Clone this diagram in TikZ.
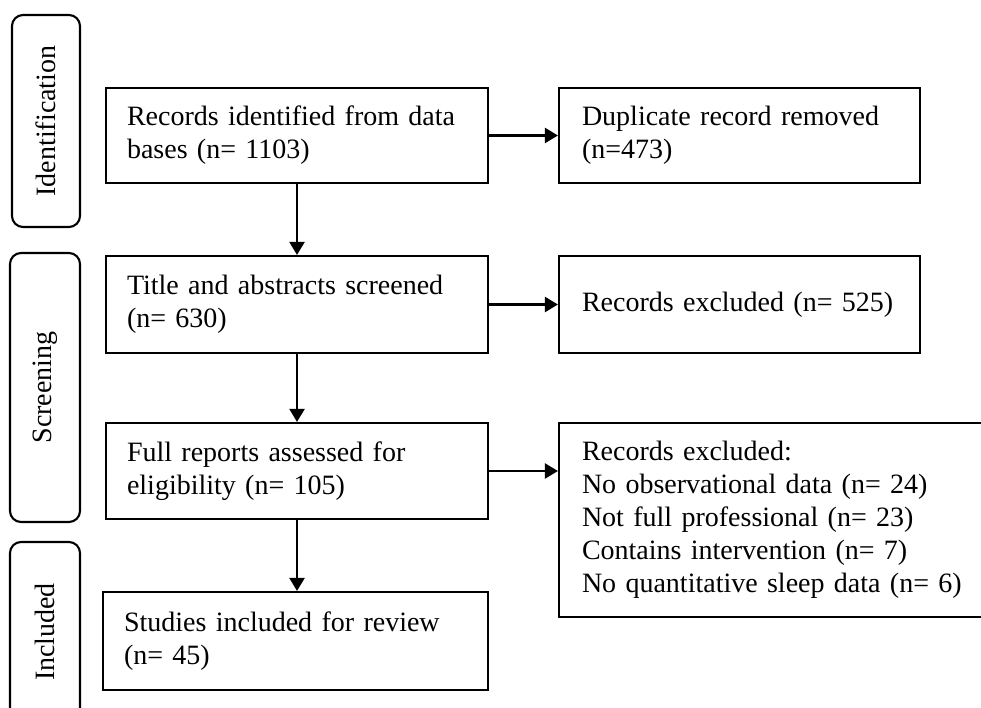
\documentclass[tikz,border=0pt]{standalone}
\usepackage{fontspec}
\setmainfont{Liberation Serif}
\usetikzlibrary{arrows.meta}
\begin{document}
\begin{tikzpicture}[x=1pt,y=-1pt,
  txt/.style={font=\fontsize{28}{33}\selectfont},
  box/.style={txt, draw=black, line width=2.1pt, rectangle, inner ysep=0pt, align=left},
  lbox/.style={box, inner xsep=21pt},
  rbox/.style={box, inner xsep=23pt},
  phase/.style={txt, draw=black, line width=2.1pt, rounded corners=11pt, rotate=90, inner sep=0pt},
  arr/.style={line width=2.1pt, -{Triangle[length=13pt,width=15pt]}}
]
\useasboundingbox (0,0) rectangle (981,708);

% phase labels
\node[phase, minimum width=212pt, minimum height=68pt] (pid) at (46,121) {Identification};
\node[phase, minimum width=269pt, minimum height=70pt] (psc) at (45,387.5) {Screening};
\node[phase, minimum width=180pt, minimum height=70pt] (pin) at (45,632) {Included};

% main column
\node[lbox, minimum width=382pt, minimum height=95pt, text width=340pt] (b1) at (297,135.5)
  {Records identified from data\\bases (n= 1103)};
\node[lbox, minimum width=382pt, minimum height=97pt, text width=340pt] (b2) at (297,304.5)
  {Title and abstracts screened\\(n= 630)};
\node[lbox, minimum width=382pt, minimum height=96pt, text width=340pt] (b3) at (297,471)
  {Full reports assessed for\\eligibility (n= 105)};
\node[lbox, minimum width=385pt, minimum height=98pt, text width=343pt] (b4) at (295.5,641)
  {Studies included for review\\(n= 45)};

% exclusion column
\node[rbox, minimum width=361pt, minimum height=95pt, text width=315pt] (r1) at (739.5,135.5)
  {Duplicate record removed\\(n=473)};
\node[rbox, minimum width=361pt, minimum height=97pt, text width=315pt] (r2) at (739.5,304.5)
  {Records excluded (n= 525)};
\node[rbox, minimum width=441pt, minimum height=194pt, text width=395pt] (r3) at (779.5,520)
  {Records excluded:\\No observational data (n= 24)\\Not full professional (n= 23)\\Contains intervention (n= 7)\\No quantitative sleep data (n= 6)};

% connectors
\draw[arr] (b1.south) -- (b1.south |- b2.north);
\draw[arr] (b2.south) -- (b2.south |- b3.north);
\draw[arr] (b3.south) -- (b3.south |- b4.north);
\draw[arr] (b1.east) -- (r1.west);
\draw[arr] (b2.east) -- (r2.west);
\draw[arr] (b3.east) -- (b3.east -| r3.west);
\end{tikzpicture}
\end{document}
